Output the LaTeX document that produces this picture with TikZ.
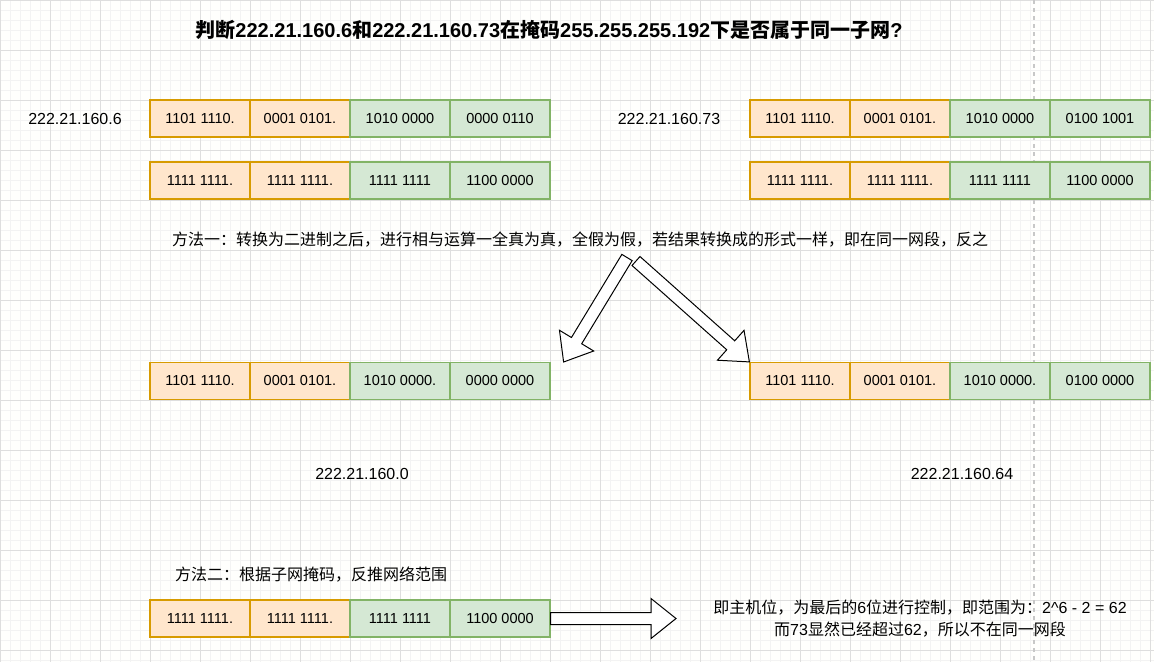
\documentclass[tikz,border=0pt]{standalone}
\usepackage{fontspec}
\setmainfont{Liberation Sans}
\newfontfamily\cjk{Noto Sans CJK SC}
\usetikzlibrary{calc}
\definecolor{orgfill}{HTML}{FFE6CC}
\definecolor{orgline}{HTML}{D79B00}
\definecolor{grnfill}{HTML}{D5E8D4}
\definecolor{grnline}{HTML}{82B366}
\definecolor{minorgrid}{HTML}{F3F3F3}
\definecolor{majorgrid}{HTML}{DEDEDE}
\definecolor{dashgrey}{HTML}{C8C8C8}
\definecolor{bg}{HTML}{FFFFFD}
\tikzset{
  orgbox/.style={draw=orgline, fill=orgfill, line width=1.2pt, minimum width=100pt, minimum height=37pt, inner sep=0pt, font=\fontsize{14.5}{16}\selectfont},
  grnbox/.style={draw=grnline, fill=grnfill, line width=1.2pt, minimum width=100pt, minimum height=37pt, inner sep=0pt, font=\fontsize{14.5}{16}\selectfont},
  lbl/.style={inner sep=0pt, font=\fontsize{16}{19}\selectfont},
  blockarr/.style={draw=black, fill=white, line width=1pt, line join=miter},
}
\newcommand\blockarrow[3]{%
  \coordinate (#3h) at ($(#2)!25pt!(#1)$);
  \draw[blockarr] ($(#1)!6pt!90:(#2)$) -- ($(#3h)!6pt!90:(#2)$) -- ($(#3h)!20pt!90:(#2)$) -- (#2) -- ($(#3h)!20pt!-90:(#2)$) -- ($(#3h)!6pt!-90:(#2)$) -- ($(#1)!6pt!-90:(#2)$) -- cycle;}
\begin{document}
\begin{tikzpicture}[x=1pt,y=-1pt]
\useasboundingbox (0,0) rectangle (1154,662);
\fill[bg] (0,0) rectangle (1154,662);
% grid
\foreach \x in {0,10,...,1150} \draw[minorgrid, line width=0.8pt] (\x,0) -- (\x,662);
\foreach \y in {0,10,...,660} \draw[minorgrid, line width=0.8pt] (0,\y) -- (1154,\y);
\foreach \x in {0,50,...,1150} \draw[majorgrid, line width=0.8pt] (\x,0) -- (\x,662);
\foreach \y in {0,50,...,650} \draw[majorgrid, line width=0.8pt] (0,\y) -- (1154,\y);
\draw[dashgrey, line width=1.5pt, dash pattern=on 4pt off 4pt] (1034,0) -- (1034,662);

% title
\node[inner sep=0pt, font=\bfseries\fontsize{20}{24}\selectfont] (title) at (549,30)
  {{\cjk 判断}222.21.160.6{\cjk 和}222.21.160.73{\cjk 在掩码}255.255.255.192{\cjk 下是否属于同一子网}?};

% row 1 left
\node[lbl] (ip6) at (75,118.5) {222.21.160.6};
\node[orgbox] (a1) at (200,118.5) {1101 1110.};
\node[orgbox] (a2) at (300,118.5) {0001 0101.};
\node[grnbox] (a3) at (400,118.5) {1010 0000};
\node[grnbox] (a4) at (500,118.5) {0000 0110};
% row 1 right
\node[lbl] (ip73) at (669,118.5) {222.21.160.73};
\node[orgbox] (b1) at (800,118.5) {1101 1110.};
\node[orgbox] (b2) at (900,118.5) {0001 0101.};
\node[grnbox] (b3) at (1000,118.5) {1010 0000};
\node[grnbox] (b4) at (1100,118.5) {0100 1001};
% row 2 masks
\node[orgbox] (ma1) at (200,180.5) {1111 1111.};
\node[orgbox] (ma2) at (300,180.5) {1111 1111.};
\node[grnbox] (ma3) at (400,180.5) {1111 1111};
\node[grnbox] (ma4) at (500,180.5) {1100 0000};
\node[orgbox] (mb1) at (800,180.5) {1111 1111.};
\node[orgbox] (mb2) at (900,180.5) {1111 1111.};
\node[grnbox] (mb3) at (1000,180.5) {1111 1111};
\node[grnbox] (mb4) at (1100,180.5) {1100 0000};

% method 1
\node[lbl, anchor=west] (t1) at (172,240)
  {\cjk 方法一：转换为二进制之后，进行相与运算一全真为真，全假为假，若结果转换成的形式一样，即在同一网段，反之};

% row 3 results
\node[orgbox] (c1) at (200,381) {1101 1110.};
\node[orgbox] (c2) at (300,381) {0001 0101.};
\node[grnbox] (c3) at (400,381) {1010 0000.};
\node[grnbox] (c4) at (500,381) {0000 0000};
\node[orgbox] (e1) at (800,381) {1101 1110.};
\node[orgbox] (e2) at (900,381) {0001 0101.};
\node[grnbox] (e3) at (1000,381) {1010 0000.};
\node[grnbox] (e4) at (1100,381) {0100 0000};
\node[lbl] (net0) at (362,474) {222.21.160.0};
\node[lbl] (net64) at (962,474) {222.21.160.64};

% arrows from method 1
\coordinate (t1a) at (627,257.5);
\coordinate (t1b) at (636,261);
\coordinate (tipa) at ($(c4.east)+(13,-19)$);
\coordinate (tipb) at (e1.north west);
\blockarrow{t1a}{tipa}{ha}
\blockarrow{t1b}{tipb}{hb}

% method 2
\node[lbl, anchor=west] (t2) at (175,575) {\cjk 方法二：根据子网掩码，反推网络范围};
\node[orgbox] (d1) at (200,618.5) {1111 1111.};
\node[orgbox] (d2) at (300,618.5) {1111 1111.};
\node[grnbox] (d3) at (400,618.5) {1111 1111};
\node[grnbox] (d4) at (500,618.5) {1100 0000};
\node[lbl, align=center, font=\fontsize{16}{22}\selectfont] (res) at (920,619)
  {{\cjk 即主机位，为最后的}6{\cjk 位进行控制，即范围为：}2\textasciicircum 6 - 2 = 62\\
   {\cjk 而}73{\cjk 显然已经超过}62{\cjk ，所以不在同一网段}};
\coordinate (tipc) at (676,618.5);
\blockarrow{d4.east}{tipc}{hc}
\end{tikzpicture}
\end{document}
